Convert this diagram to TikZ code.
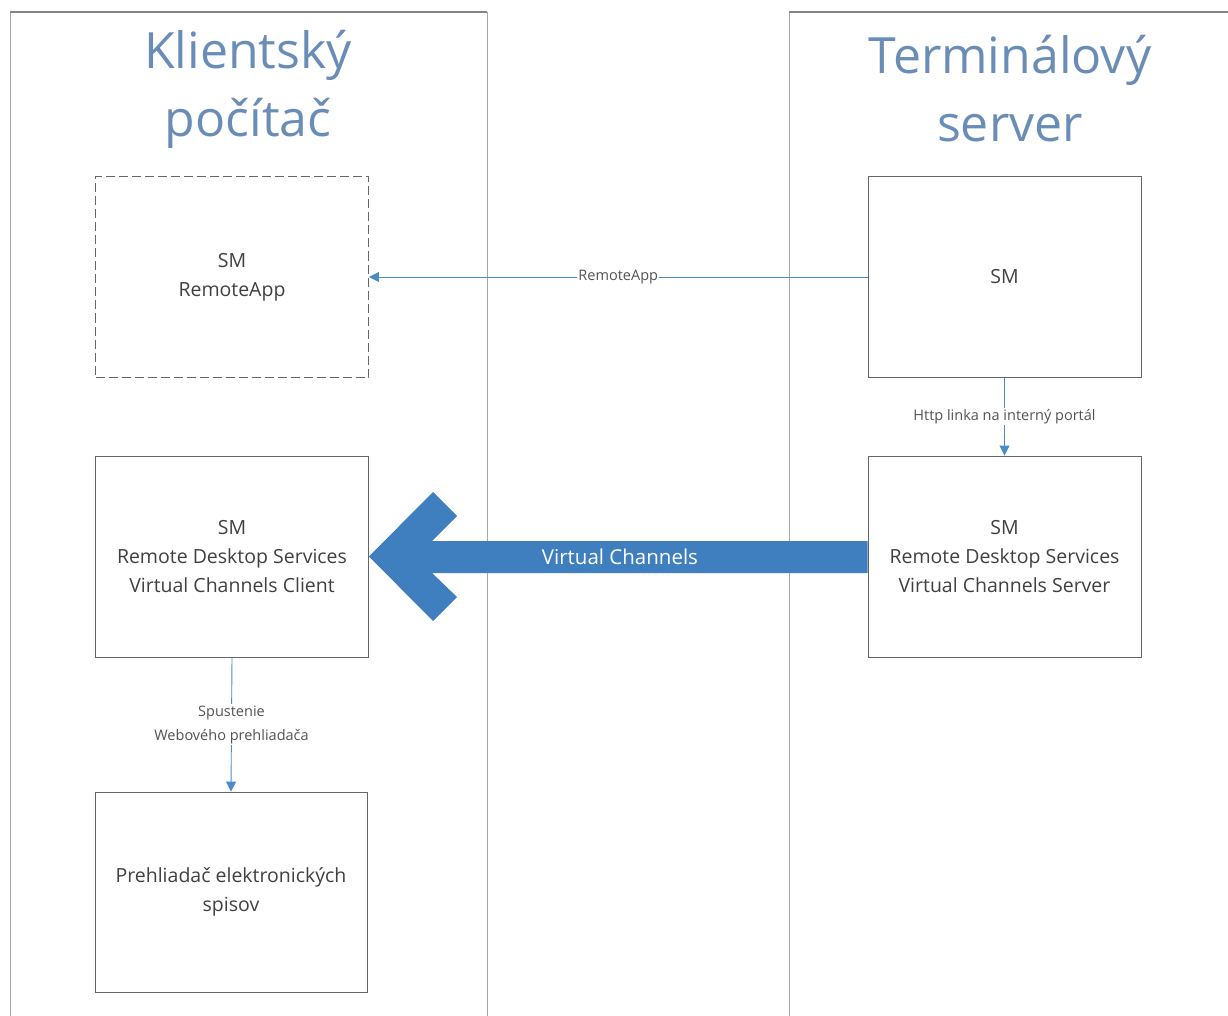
\documentclass[tikz,border=0pt]{standalone}
\usepackage{fontspec}
\setmainfont{Open Sans}
\usetikzlibrary{arrows.meta}
\definecolor{lanegray}{HTML}{A6A6A6}
\definecolor{titleblue}{HTML}{6A8DB8}
\definecolor{boxtext}{HTML}{404040}
\definecolor{arrowblue}{HTML}{4A8CC6}
\definecolor{bigblue}{HTML}{3F7FBF}
\tikzset{
  lane/.style={draw=lanegray, line width=0.8pt},
  procbox/.style={draw=boxtext!80, line width=0.9pt, minimum width=273pt, minimum height=201pt, align=center, font=\fontsize{19.5}{29}\selectfont, text=boxtext, inner sep=0pt},
  dashbox/.style={procbox, dash pattern=on 9pt off 4pt},
  conn/.style={draw=arrowblue, line width=0.9pt, -{Triangle[length=10pt,width=10pt]}},
  clabel/.style={font=\fontsize{14.5}{24}\selectfont, text=boxtext!90, fill=white, inner sep=1pt, align=center},
  title/.style={font=\fontsize{50}{68}\selectfont, text=titleblue, align=center}
}
\begin{document}
\begin{tikzpicture}[x=1pt,y=-1pt]
\useasboundingbox (0,0) rectangle (1228,1016);
% lanes
\draw[lane] (10,1016) -- (10,12) -- (487,12) -- (487,1016);
\draw[lane] (789,1016) -- (789,12) -- (1228,12);
\draw[draw=lanegray!80!black, line width=2.4pt] (10,12) -- (487,12);
\draw[draw=lanegray!80!black, line width=2.4pt] (789,12) -- (1228,12);
\node[title] (tleft) at (248,89) {Klientský\\počítač};
\node[title] (tright) at (1010,89) {Terminálový\\server};
% boxes
\node[dashbox] (ra) at (232,277) {SM\\RemoteApp};
\node[procbox] (sm) at (1004.5,277) {SM};
\node[procbox] (client) at (232,556.5) {SM\\Remote Desktop Services\\Virtual Channels Client};
\node[procbox] (server) at (1004.5,556.5) {SM\\Remote Desktop Services\\Virtual Channels Server};
\node[procbox, minimum width=272pt, minimum height=200pt] (viewer) at (231,892) {Prehliadač elektronických\\spisov};
% connectors
\draw[conn] (sm.west) -- node[clabel] {RemoteApp} (ra.east);
\draw[conn] (sm.south) -- node[clabel] {Http linka na interný portál} (server.north);
\draw[conn] (client.south) -- node[clabel, pos=0.5] {Spustenie\\Webového prehliadača} (viewer.north);
% big arrow
\fill[bigblue] (server.west |- 0,541) -- (432,541) -- (457,516) -- (433,492) -- (client.east) -- (433,621) -- (457,597) -- (432,573) -- (server.west |- 0,573) -- cycle;
\node[font=\fontsize{20.5}{24}\selectfont, text=white] (vc) at (620,557) {Virtual Channels};
\end{tikzpicture}
\end{document}
